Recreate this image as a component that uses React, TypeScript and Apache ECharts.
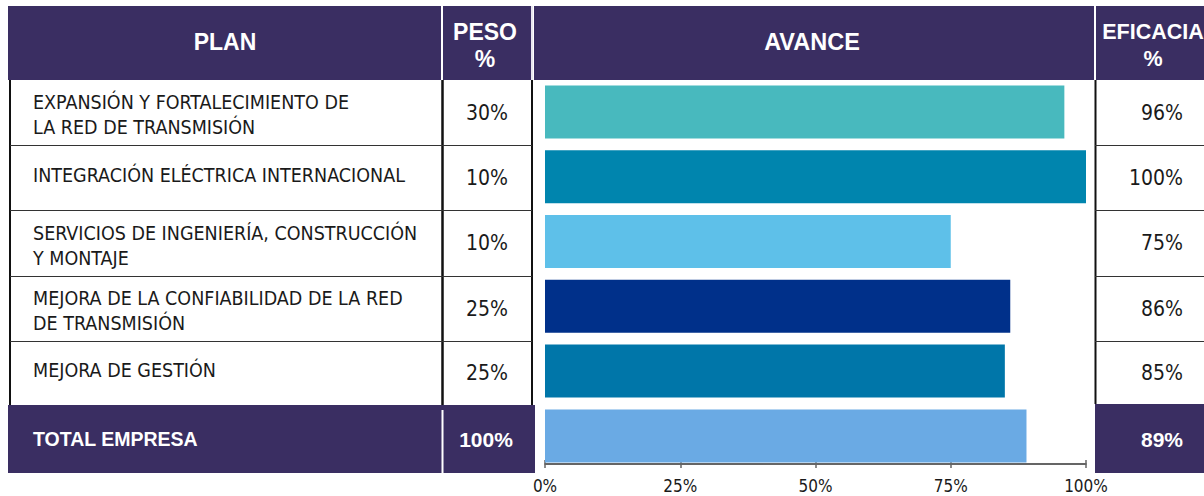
import React, { useEffect, useRef } from 'react';
import * as echarts from 'echarts';

const plans = [
  'EXPANSIÓN Y FORTALECIMIENTO DE\nLA RED DE TRANSMISIÓN',
  'INTEGRACIÓN ELÉCTRICA INTERNACIONAL',
  'SERVICIOS DE INGENIERÍA, CONSTRUCCIÓN\nY MONTAJE',
  'MEJORA DE LA CONFIABILIDAD DE LA RED\nDE TRANSMISIÓN',
  'MEJORA DE GESTIÓN',
];
const totalLabel = 'TOTAL EMPRESA';
const pesos = [30, 10, 10, 25, 25];
const pesoTotal = 100;
const avance = [96, 100, 75, 86, 85];
const avanceTotal = 89;
const barColors = ['#48b9be', '#0085ae', '#5ec0e9', '#00308a', '#0076a9', '#6aaae4'];
const xTicks = [0, 25, 50, 75, 100];
const headPlan = 'PLAN';
const headPeso = 'PESO\n%';
const headAvance = 'AVANCE';
const headEficacia = 'EFICACIA\n%';

const PURPLE = '#3a2e62';
const NARROW = "'Liberation Sans Narrow', 'DejaVu Sans Condensed', 'Arial Narrow', sans-serif";
const SANS = "'Liberation Sans', Arial, sans-serif";

export default function App() {
  const ref = useRef<HTMLDivElement>(null);
  useEffect(() => {
    document.body.style.margin = '0';
    const chart = echarts.init(ref.current!, null, { renderer: 'svg' });
    const rowB = [80, 145, 210, 276, 341, 405, 472];
    const allVals = [...avance, avanceTotal];
    const cats = [...plans, totalLabel];

    const g: any[] = [];
    // header
    const headRect = (x: number, w: number) =>
      g.push({ type: 'rect', shape: { x, y: 6, width: w, height: 74 }, style: { fill: PURPLE }, silent: true });
    headRect(8, 433);
    headRect(443, 88);
    headRect(534, 560);
    headRect(1096, 130);
    const headText = (x: number, y: number, t: string, size = 23) =>
      g.push({
        type: 'text', x, y, silent: true,
        style: { text: t, fill: '#ffffff', font: `bold ${size}px ${SANS}`, align: 'center', verticalAlign: 'middle', lineHeight: 27 },
      });
    headText(225, 42, headPlan);
    headText(485, 45, headPeso);
    headText(812, 42, headAvance, 23.5);
    headText(1153, 45, headEficacia, 21.5);

    // total row
    g.push({ type: 'rect', shape: { x: 8, y: 405, width: 527, height: 68 }, style: { fill: PURPLE }, silent: true });
    g.push({ type: 'rect', shape: { x: 1095, y: 404, width: 130, height: 69 }, style: { fill: PURPLE }, silent: true });
    g.push({ type: 'line', shape: { x1: 442.5, y1: 410, x2: 442.5, y2: 473 }, style: { stroke: '#ffffff', lineWidth: 2 }, silent: true });
    g.push({ type: 'line', shape: { x1: 532, y1: 6, x2: 532, y2: 80 }, style: { stroke: '#e8e6ee', lineWidth: 2 }, silent: true });

    // grid lines
    const vline = (x: number, y1: number, y2: number, w = 2) =>
      g.push({ type: 'line', shape: { x1: x, y1, x2: x, y2 }, style: { stroke: '#111111', lineWidth: w }, silent: true });
    vline(10, 80, 405);
    vline(442.5, 80, 405, 2.5);
    vline(532, 80, 405);
    vline(1095.5, 80, 404);
    for (let i = 1; i < 5; i++) {
      const y = rowB[i] + 0.5;
      g.push({ type: 'line', shape: { x1: 10, y1: y, x2: 532, y2: y }, style: { stroke: '#333333', lineWidth: 1.2 }, silent: true });
      g.push({ type: 'line', shape: { x1: 1095, y1: y, x2: 1204, y2: y }, style: { stroke: '#333333', lineWidth: 1.2 }, silent: true });
    }

    // row texts
    for (let i = 0; i < 5; i++) {
      const mid = (rowB[i] + rowB[i + 1]) / 2;
      const twoLines = plans[i].includes('\n');
      g.push({
        type: 'text', x: 33, y: mid + (twoLines ? 2.5 : -2.5), silent: true,
        style: { text: plans[i], fill: '#1a1a1a', font: `19.5px ${NARROW}`, align: 'left', verticalAlign: 'middle', lineHeight: 25 },
      });
      g.push({
        type: 'text', x: 487, y: mid, silent: true,
        style: { text: `${pesos[i]}%`, fill: '#1a1a1a', font: `21px ${NARROW}`, align: 'center', verticalAlign: 'middle' },
      });
      g.push({
        type: 'text', x: 1183, y: mid, silent: true,
        style: { text: `${avance[i]}%`, fill: '#1a1a1a', font: `21px ${NARROW}`, align: 'right', verticalAlign: 'middle' },
      });
    }
    g.push({
      type: 'text', x: 33, y: 439, silent: true,
      style: { text: totalLabel, fill: '#ffffff', font: `bold 19.5px ${SANS}`, align: 'left', verticalAlign: 'middle' },
    });
    g.push({
      type: 'text', x: 486, y: 439, silent: true,
      style: { text: `${pesoTotal}%`, fill: '#ffffff', font: `bold 21px ${SANS}`, align: 'center', verticalAlign: 'middle' },
    });
    g.push({
      type: 'text', x: 1183, y: 439, silent: true,
      style: { text: `${avanceTotal}%`, fill: '#ffffff', font: `bold 21px ${SANS}`, align: 'right', verticalAlign: 'middle' },
    });

    chart.setOption({
      animation: false,
      graphic: { elements: g },
      grid: { left: 545, width: 541, top: 79.5, height: 388.8 },
      xAxis: [
        {
          type: 'value', min: 0, max: 100, interval: 25, position: 'bottom', offset: -4.3,
          axisLine: { show: true, lineStyle: { color: '#333333', width: 1.5 } },
          axisTick: { show: true, length: 4, lineStyle: { color: '#666666', width: 1.5 } },
          axisLabel: { formatter: (v: number) => (xTicks.includes(v) ? `${v}%` : ''), color: '#1a1a1a', fontFamily: NARROW, fontSize: 17, margin: 13 },
          splitLine: { show: false },
        },
        {
          type: 'value', min: 0, max: 100, interval: 25, position: 'bottom', offset: -4.3,
          axisLine: { show: false },
          axisTick: { show: true, inside: true, length: 4, lineStyle: { color: '#666666', width: 1.5 } },
          axisLabel: { show: false },
          splitLine: { show: false },
        },
      ],
      yAxis: {
        type: 'category', data: cats, inverse: true,
        axisLine: { show: false }, axisTick: { show: false }, axisLabel: { show: false },
      },
      series: [
        {
          type: 'bar', xAxisIndex: 0, barWidth: 53,
          data: allVals.map((v, i) => ({ value: v, itemStyle: { color: barColors[i] } })),
        },
      ],
    });
    return () => chart.dispose();
  }, []);
  return <div ref={ref} style={{ width: 1204, height: 496 }} />;
}
